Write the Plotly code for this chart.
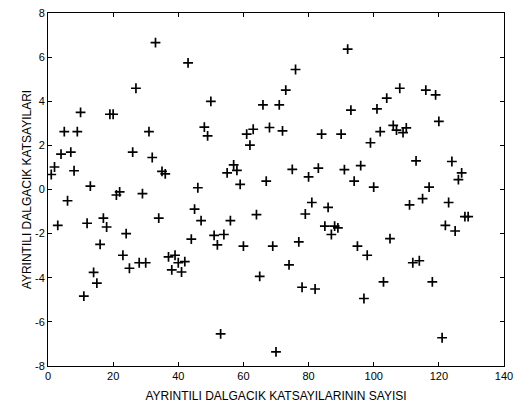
import plotly.graph_objects as go

coef_index = list(range(1, 130))
coef_values = [
    0.68, 1.02, -1.63, 1.60, 2.62, -0.51, 1.69, 0.85, 2.62, 3.50,
    -4.83, -1.53, 0.15, -3.76, -4.24, -2.49, -1.30, -1.70, 3.41, 3.41,
    -0.25, -0.11, -2.98, -2.00, -3.57, 1.69, 4.59, -3.32, -0.19, -3.32,
    2.62, 1.45, 6.66, -1.30, 0.82, 0.71, -3.05, -3.64, -2.98, -3.32,
    -3.74, -3.27, 5.74, -2.25, -0.89, 0.08, -1.41, 2.83, 2.43, 3.99,
    -2.08, -2.51, -6.54, -2.04, 0.75, -1.41, 1.12, 0.87, 0.23, -2.57,
    2.51, 2.01, 2.73, -1.14, -3.94, 3.84, 0.38, 2.81, -2.57, -7.36,
    3.84, 2.66, 4.50, -3.42, 0.91, 5.44, -2.37, -4.43, -1.11, 0.57,
    -0.59, -4.51, 0.97, 2.51, -1.66, -0.81, -2.04, -1.66, -1.74, 2.51,
    0.90, 6.36, 3.60, 0.38, -2.57, 1.08, -4.94, -2.98, 2.12, 0.11,
    3.65, 2.62, -4.19, 4.14, -2.23, 2.91, 2.69, 4.59, 2.58, 2.79,
    -0.70, -3.32, 1.30, -3.23, -0.41, 4.50, 0.11, -4.19, 4.29, 3.09,
    -6.72, -1.63, -0.59, 1.27, -1.88, 0.45, 0.75, -1.23, -1.23,
]

x_ticks = [0, 20, 40, 60, 80, 100, 120, 140]
y_ticks = [-8, -6, -4, -2, 0, 2, 4, 6, 8]
y_tick_text = [str(v).replace("\u2212", "-") for v in y_ticks]

fig = go.Figure(
    go.Scatter(
        x=coef_index,
        y=coef_values,
        mode="markers",
        marker=dict(symbol="cross-thin", size=7, color="black",
                    line=dict(color="black", width=1.7)),
        showlegend=False,
    )
)

axis_common = dict(
    showline=True, linecolor="black", linewidth=1, mirror="ticks",
    ticks="inside", ticklen=4, tickcolor="black", tickwidth=1,
    showgrid=False, zeroline=False,
    tickfont=dict(family="Liberation Sans, Arial, sans-serif", size=11, color="black"),
)

fig.update_xaxes(
    range=[0, 140], tickvals=x_ticks, ticktext=[str(v) for v in x_ticks],
    title=dict(text="AYRINTILI DALGACIK KATSAYILARININ SAYISI", standoff=10,
               font=dict(family="Liberation Sans, Arial, sans-serif", size=12, color="black")),
    **axis_common,
)
fig.update_yaxes(
    range=[-8, 8], tickvals=y_ticks, ticktext=y_tick_text,
    title=dict(text="AYRINTILI DALGACIK KATSAYILARI", standoff=0,
               font=dict(family="Liberation Sans, Arial, sans-serif", size=12, color="black")),
    **axis_common,
)

fig.update_layout(
    width=523, height=410,
    margin=dict(l=48, r=19, t=7, b=44),
    paper_bgcolor="white", plot_bgcolor="white",
)

fig.write_html("out.html")
